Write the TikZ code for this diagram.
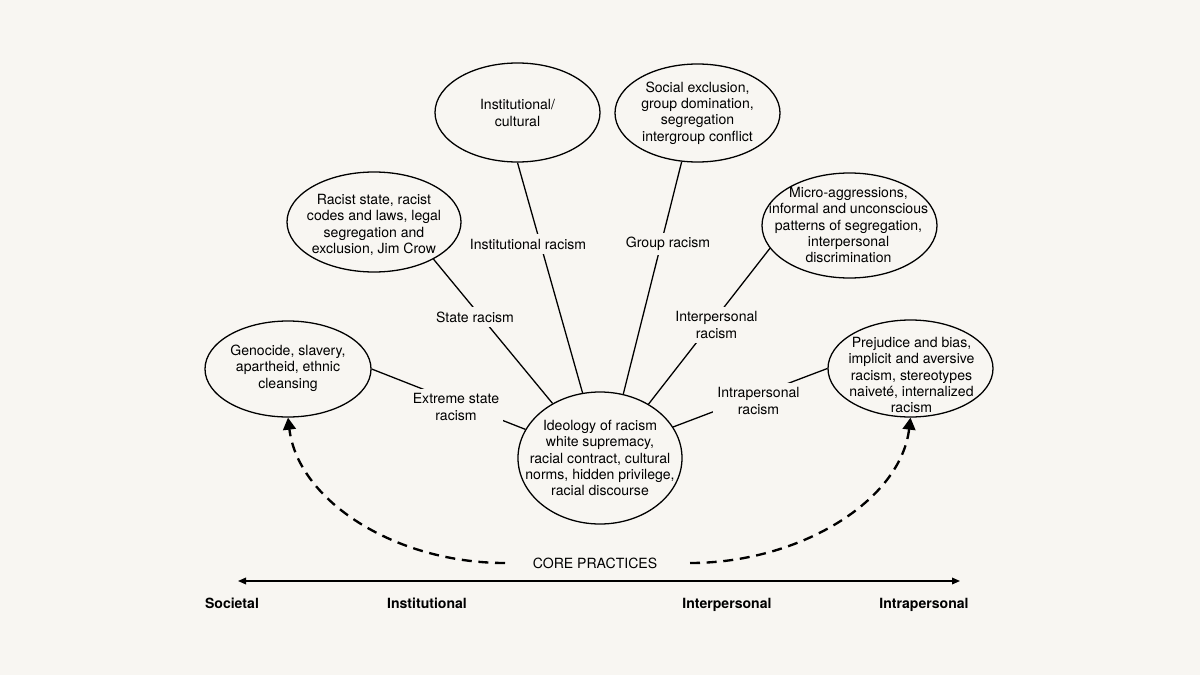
\documentclass[tikz,border=0pt]{standalone}
\usepackage{fontspec}
\setmainfont{TeX Gyre Heros}
\usepackage{tikz}
\usetikzlibrary{shapes.geometric,arrows.meta}

\definecolor{paper}{RGB}{248,246,242}

\tikzset{
  blob/.style={ellipse, draw, line width=1.1pt, inner sep=0pt},
  words/.style={align=center, inner sep=0pt},
  tag/.style={align=center, fill=paper, inner sep=0.13cm},
  link/.style={draw, line width=1.1pt},
  hop/.style={line width=2pt, dash pattern=on 0.3cm off 0.2cm, -{Triangle[length=0.36cm,width=0.38cm]}},
  pole/.style={anchor=base, font=\fontsize{12}{14}\selectfont\bfseries},
  spine/.style={line width=1.1pt, {Triangle[length=0.24cm,width=0.2cm]}-{Triangle[length=0.24cm,width=0.2cm]}}
}

\begin{document}
\begin{tikzpicture}[x=0.03cm, y=-0.03cm, font=\fontsize{12}{14}\selectfont]
        \fill[paper] (0,0) rectangle (1200,675);
        \useasboundingbox (0,0) rectangle (1200,675);

        \node[blob, minimum width=4.98cm, minimum height=2.88cm] (A) at (288,369) {};
        \node[blob, minimum width=5.22cm, minimum height=3.00cm] (B) at (374,222) {};
        \node[blob, minimum width=4.95cm, minimum height=2.97cm] (C) at (517.5,112.5) {};
        \node[blob, minimum width=4.95cm, minimum height=2.94cm] (D) at (697.5,113) {};
        \node[blob, minimum width=5.25cm, minimum height=3.15cm] (E) at (849.5,225.5) {};
        \node[blob, minimum width=4.95cm, minimum height=2.91cm] (F) at (910.5,368.5) {};
        \node[blob, minimum width=4.92cm, minimum height=3.96cm] (O) at (600,458) {};

        \node[words] (TA) at (288,368) {Genocide, slavery,\\apartheid, ethnic\\cleansing};
        \node[words] (TB) at (374,225) {Racist state, racist\\codes and laws, legal\\segregation and\\exclusion, Jim Crow};
        \node[words] (TC) at (517.5,113) {Institutional/\\cultural};
        \node[words] (TD) at (697.5,113) {Social exclusion,\\group domination,\\segregation\\intergroup conflict};
        \node[words] (TE) at (848.5,225) {Micro-aggressions,\\informal and unconscious\\patterns of segregation,\\interpersonal\\discrimination};
        \node[words] (TF) at (911.5,375) {Prejudice and bias,\\implicit and aversive\\racism, stereotypes\\naiveté, internalized\\racism};
        \node[words] (TO) at (600,458) {Ideology of racism\\white supremacy,\\racial contract, cultural\\norms, hidden privilege,\\racial discourse};

        \path
          (A.east) edge[link] (O.159)
          (B.-32) edge[link] (O.131)
          (C.south) edge[link] (O.105.5)
          (D.252.8) edge[link] (O.70.5)
          (E.196.7) edge[link] (O.48.9)
          (F.west) edge[link] (O.23.7);

        \node[tag] (LA) at (456,407) {Extreme state\\racism};
        \node[tag] (LB) at (475,317) {State racism};
        \node[tag] (LC) at (528,244) {Institutional racism};
        \node[tag] (LD) at (668,244) {Group racism};
        \node[tag] (LE) at (716.5,325) {Interpersonal\\racism};
        \node[tag] (LF) at (758.5,401) {Intrapersonal\\racism};

        \node (P) at (595,563) {CORE PRACTICES};
        \coordinate (PL) at (505,563);
        \coordinate (PR) at (690,563);
        \draw[hop] (PL) .. controls +(-110,0) and +(10,83) .. (A.south);
        \draw[hop] (PR) .. controls +(110,0) and +(-10,83) .. (F.south);

        \coordinate (SL) at (238,581);
        \coordinate (SR) at (960,581);
        \draw[spine] (SL) -- (SR);

        \node[pole] (S1) at (232,608) {Societal};
        \node[pole] (S2) at (427,608) {Institutional};
        \node[pole] (S3) at (727,608) {Interpersonal};
        \node[pole] (S4) at (924,608) {Intrapersonal};
\end{tikzpicture}
\end{document}
